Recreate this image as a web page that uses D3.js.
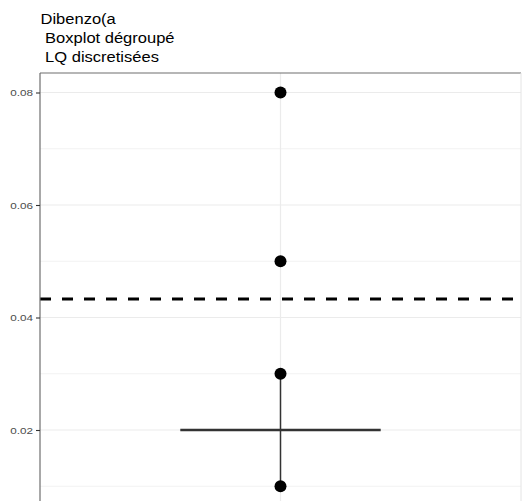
<!DOCTYPE html>
<html><head><meta charset="utf-8">
<script src="https://cdn.jsdelivr.net/npm/d3@7"></script>
<style>body{margin:0;background:#fff}svg{display:block}</style>
</head><body><svg id="c" width="522" height="501"></svg>
<script>
const titleLines = ["Dibenzo(a", " Boxplot dégroupé", " LQ discretisées"];
const categories = ["A"];
const pointValues = [0.08, 0.05, 0.03, 0.01];
const medianValue = 0.02;
const whiskerLow = 0.01, whiskerHigh = 0.03;
const thresholdValue = 0.0433;
const yTicks = [0.02, 0.04, 0.06, 0.08];
const yMinor = [0.01, 0.03, 0.05, 0.07];

const svg = d3.select("#c");
const FONT = "Liberation Sans, Arial, sans-serif";
const L = 40, R = 521, T = 73, B = 530;
const y = d3.scaleLinear().domain([0.02, 0.08]).range([430, 92.5]);
const x = d3.scaleBand().domain(categories).range([L, R]);
const xc = d => x(d) + x.bandwidth() / 2;
const unit = (R - L) / 1.2;

svg.append("rect").attr("x", L).attr("y", T).attr("width", R - L).attr("height", B - T).attr("fill", "#fff");
const g = svg.append("g");
g.selectAll(".mn").data(yMinor).join("line").attr("x1", L).attr("x2", R)
  .attr("y1", d => y(d)).attr("y2", d => y(d)).attr("stroke", "#f2f2f2").attr("stroke-width", 1);
g.selectAll(".mj").data(yTicks).join("line").attr("x1", L).attr("x2", R)
  .attr("y1", d => y(d)).attr("y2", d => y(d)).attr("stroke", "#ebebeb").attr("stroke-width", 1.2);
g.selectAll(".vx").data(categories).join("line").attr("x1", xc).attr("x2", xc)
  .attr("y1", T).attr("y2", B).attr("stroke", "#ebebeb").attr("stroke-width", 1.2);

categories.forEach(c => {
  g.append("line").attr("x1", xc(c)).attr("x2", xc(c)).attr("y1", y(whiskerLow)).attr("y2", y(whiskerHigh))
    .attr("stroke", "#333").attr("stroke-width", 1.5);
  g.append("line").attr("x1", xc(c) - unit * 0.25).attr("x2", xc(c) + unit * 0.25)
    .attr("y1", y(medianValue)).attr("y2", y(medianValue)).attr("stroke", "#333").attr("stroke-width", 2.6);
  g.selectAll(".pt").data(pointValues).join("circle").attr("cx", xc(c)).attr("cy", d => y(d))
    .attr("r", 6).attr("fill", "#000");
});

g.append("line").attr("x1", L).attr("x2", R).attr("y1", y(thresholdValue)).attr("y2", y(thresholdValue))
  .attr("stroke", "#000").attr("stroke-width", 3).attr("stroke-dasharray", "11,11");

svg.append("line").attr("x1", L).attr("x2", R).attr("y1", T).attr("y2", T).attr("stroke", "#6e6e6e").attr("stroke-width", 1.2);
svg.append("line").attr("x1", L).attr("x2", L).attr("y1", T).attr("y2", B).attr("stroke", "#6e6e6e").attr("stroke-width", 1.2);
svg.append("line").attr("x1", R).attr("x2", R).attr("y1", T).attr("y2", B).attr("stroke", "#e4e4e4").attr("stroke-width", 1);

const ax = d3.axisLeft(y).tickValues(yTicks).tickFormat(d3.format(".2f")).tickSize(4).tickPadding(3);
const axg = svg.append("g").attr("transform", `translate(${L},0)`).call(ax);
axg.select(".domain").remove();
axg.selectAll("line").attr("stroke", "#333").attr("stroke-width", 1.1);
axg.selectAll("text")
  .attr("fill", "#4d4d4d").attr("font-family", FONT).attr("font-size", 9)
  .attr("x", null).attr("dy", null).attr("dominant-baseline", "central")
  .attr("transform", "translate(-7,0) scale(1.3,1)");

svg.append("g").attr("font-family", FONT).attr("font-size", 14.5).attr("fill", "#000")
  .selectAll("text").data(titleLines).join("text")
  .attr("transform", (d, i) => `translate(40.5,${23.5 + i * 19}) scale(1.14,1)`)
  .attr("xml:space", "preserve").style("white-space", "pre").text(d => d);
</script></body></html>
